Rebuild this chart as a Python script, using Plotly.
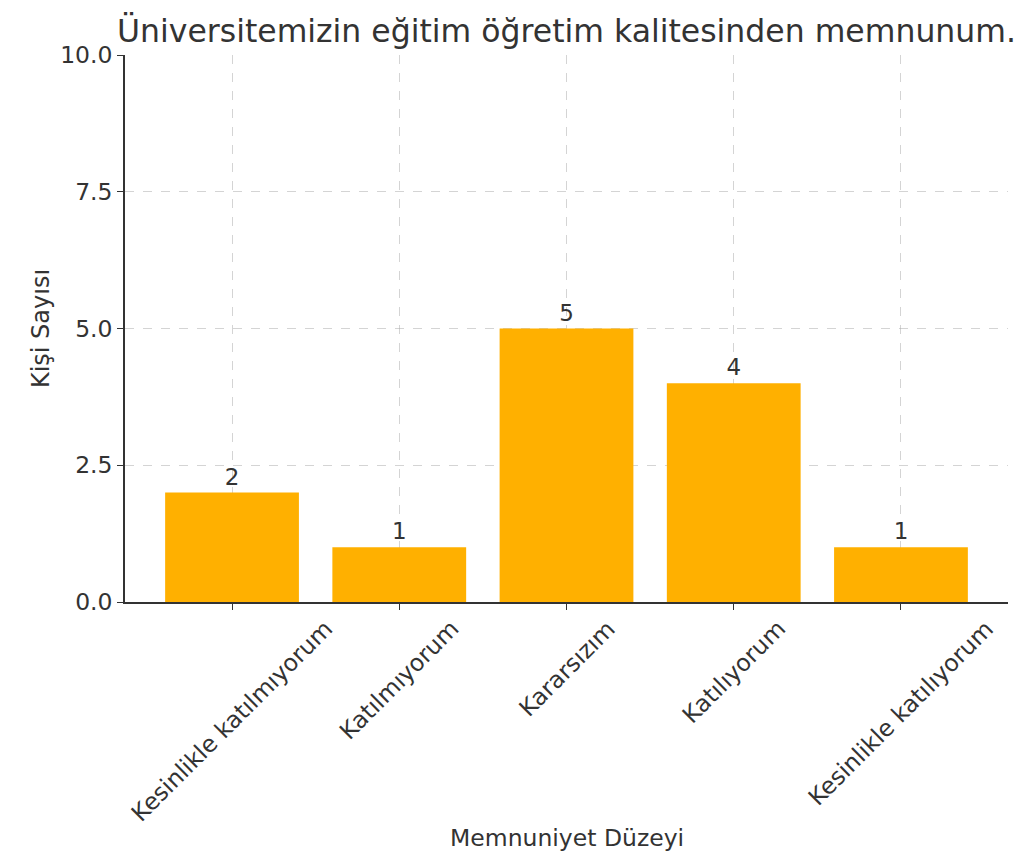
import plotly.graph_objects as go

categories = ["Kesinlikle katılmıyorum", "Katılmıyorum", "Kararsızım", "Katılıyorum", "Kesinlikle katılıyorum"]
counts = [2, 1, 5, 4, 1]
y_ticks = [0, 2.5, 5, 7.5, 10]

FONT = "DejaVu Sans"
TXT = "#333333"
W, H = 1020, 845
ML, MR, MT, MB = 117, 20, 47, 251
PH = H - MT - MB

xs = list(range(len(categories)))

fig = go.Figure(go.Bar(
    x=xs,
    y=counts,
    width=0.8,
    marker=dict(color="#FFB000", line=dict(width=0)),
    text=[str(c) for c in counts],
    textposition="outside",
    cliponaxis=False,
    textfont=dict(family=FONT, size=23, color=TXT),
))

annotations = [
    dict(x=xi, xref="x", y=0, yref="paper", yshift=-10,
         text=cat, textangle=-45, xanchor="center", yanchor="top",
         showarrow=False, font=dict(family=FONT, size=23.5, color=TXT))
    for xi, cat in zip(xs, categories)
]
annotations.append(
    dict(x=0.5, xref="paper", y=-(830 - 47 - PH) / PH, yref="paper",
         text="Memnuniyet Düzeyi", xanchor="center", yanchor="middle",
         showarrow=False, font=dict(family=FONT, size=23.5, color=TXT))
)

fig.update_layout(
    width=W, height=H,
    margin=dict(l=ML, r=MR, t=MT, b=MB),
    paper_bgcolor="white", plot_bgcolor="white",
    font=dict(family=FONT, color=TXT, size=23),
    showlegend=False,
    title=dict(text="Üniversitemizin eğitim öğretim kalitesinden memnunum.",
               x=0.5, xref="paper", xanchor="center",
               y=1 - 23 / H, yref="container", yanchor="middle",
               font=dict(family=FONT, size=31.5, color=TXT)),
    xaxis=dict(
        range=[-0.64, 4.64],
        tickmode="array", tickvals=xs, showticklabels=False,
        showgrid=True, gridcolor="rgba(170,170,170,0.5)", griddash="dash", gridwidth=1,
        showline=True, linecolor=TXT, linewidth=1.6,
        ticks="outside", ticklen=6, tickcolor=TXT, tickwidth=1.3,
        zeroline=False, layer="above traces",
        automargin=False,
    ),
    yaxis=dict(
        range=[0, 10],
        tickmode="array", tickvals=y_ticks, ticktext=[f"{v:.1f}" for v in y_ticks],
        tickfont=dict(family=FONT, size=23.5, color=TXT),
        showgrid=True, gridcolor="rgba(170,170,170,0.5)", griddash="dash", gridwidth=1,
        showline=True, linecolor=TXT, linewidth=1.6,
        ticks="outside", ticklen=6, tickcolor=TXT, tickwidth=1.3,
        zeroline=False, layer="above traces",
        title=dict(text="Kişi Sayısı", font=dict(family=FONT, size=24, color=TXT), standoff=4),
        automargin=False,
    ),
    annotations=annotations,
)

fig.write_html("out.html")
